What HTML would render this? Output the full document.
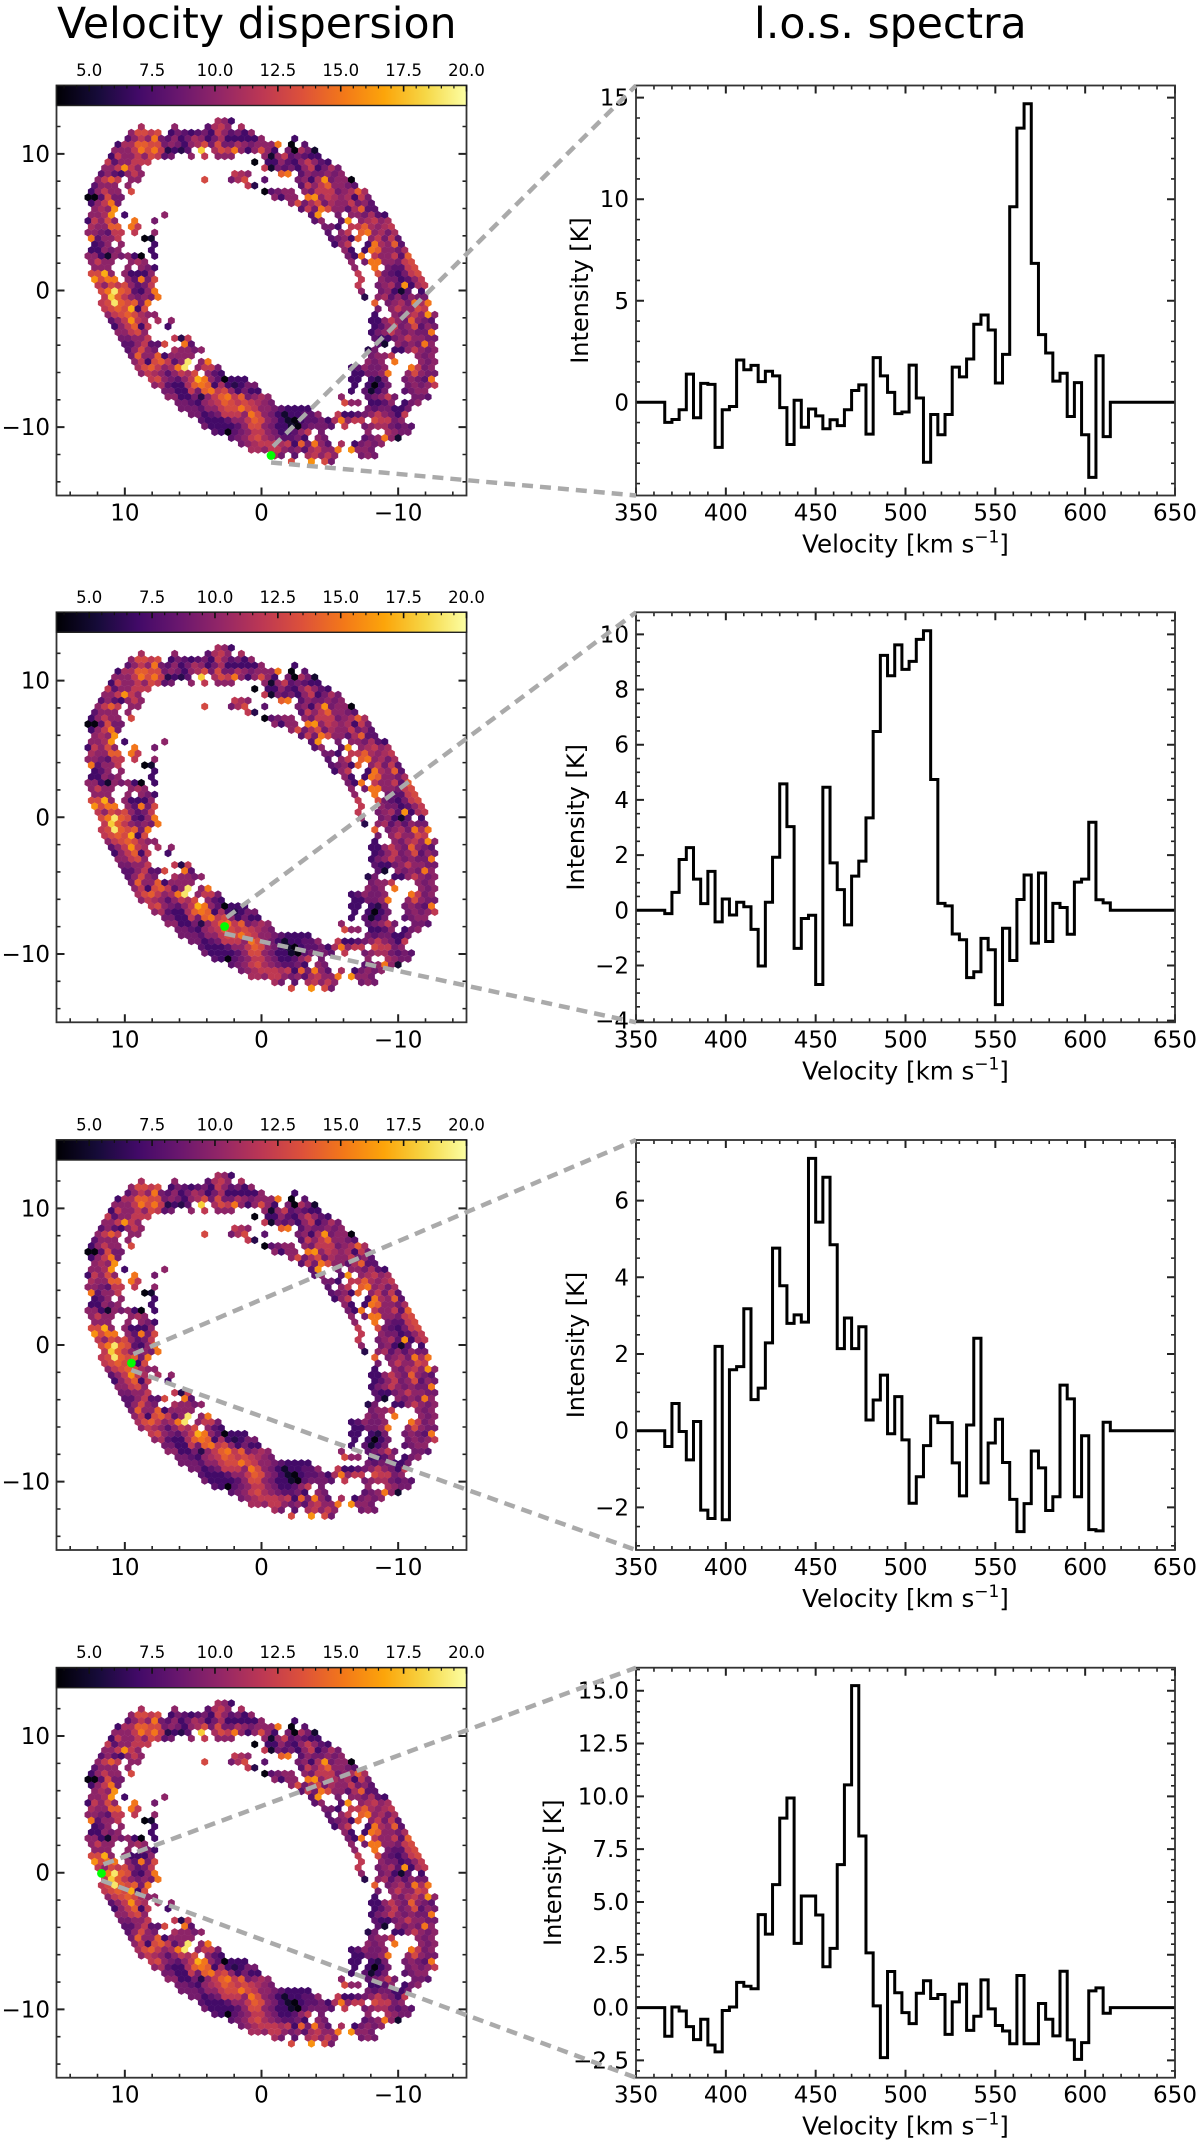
<!DOCTYPE html>
<html lang="en">
<head>
<meta charset="utf-8">
<title>Velocity dispersion and l.o.s. spectra</title>
<style>
html,body{margin:0;padding:0;background:#fff;}
svg{display:block;}
text{font-family:"DejaVu Sans","Liberation Sans",sans-serif;fill:#000;}
</style>
</head>
<body>
<svg id="figure" xmlns="http://www.w3.org/2000/svg" width="1200" height="2145" viewBox="0 0 1200 2145">
<rect x="0" y="0" width="1200" height="2145" fill="#fff"/>
<text x="57" y="38" font-size="42.6">Velocity dispersion</text>
<text x="754" y="38" font-size="42.6">l.o.s. spectra</text>
<defs>
<linearGradient id="infernoGradient" x1="0" x2="1" y1="0" y2="0"></linearGradient>
</defs>
</svg>
<script>
// ---------- chart data ----------
const spectrumVelocityChannels=[368,372,376,380,384,388,392,396,400,404,408,412,416,420,424,428,432,436,440,444,448,452,456,460,464,468,472,476,480,484,488,492,496,500,504,508,512,516,520,524,528,532,536,540,544,548,552,556,560,564,568,572,576,580,584,588,592,596,600,604,608,612];
const spectrumA=[-0.99,-0.85,-0.37,1.39,-0.76,0.93,0.88,-2.22,-0.37,-0.21,2.08,1.6,1.82,1.02,1.53,1.3,-0.26,-2.08,0.1,-1.23,-0.33,-0.67,-1.3,-0.86,-1.15,-0.37,0.58,0.86,-1.57,2.2,1.3,0.49,-0.56,-0.48,1.83,0.21,-2.95,-0.6,-1.6,-0.6,1.73,1.25,2.13,3.84,4.3,3.56,0.95,2.36,9.63,13.5,14.7,6.84,3.33,2.43,1.04,1.43,-0.7,0.97,-1.6,-3.7,2.29,-1.69];
const spectrumB=[-0.12,0.65,1.84,2.27,1.13,0.24,1.41,-0.42,0.41,-0.17,0.29,0.13,-0.69,-2.02,0.29,1.92,4.58,3.03,-1.38,-0.3,-0.18,-2.69,4.46,1.72,0.75,-0.53,1.24,1.78,3.35,6.48,9.24,8.5,9.62,8.73,9.02,9.82,10.13,4.74,0.25,0.16,-0.86,-1.07,-2.44,-2.23,-1.02,-1.43,-3.42,-0.65,-1.82,0.39,1.28,-1.19,1.35,-1.13,0.25,0.1,-0.87,1.02,1.13,3.19,0.38,0.27];
const spectrumC=[-0.41,0.71,-0.02,-0.76,0.24,-2.07,-2.29,2.2,-2.32,1.59,1.67,3.18,0.81,1.11,2.29,4.76,3.78,2.8,3.02,2.83,7.1,5.44,6.61,4.85,2.14,2.94,2.14,2.71,0.28,0.8,1.45,-0.08,0.89,-0.24,-1.89,-1.2,-0.39,0.38,0.21,0.21,-0.84,-1.7,0.15,2.41,-1.36,-0.32,0.3,-0.83,-1.79,-2.63,-1.9,-0.53,-0.97,-2.08,-1.72,1.19,0.83,-1.72,-0.13,-2.58,-2.61,0.22];
const spectrumD=[-1.36,0.03,-0.16,-0.9,-1.52,-0.55,-1.77,-2.1,-0.14,0.03,1.19,1.01,0.89,4.4,3.48,5.82,8.97,9.92,3.04,5.28,5.28,4.38,1.93,2.8,6.77,10.54,15.24,8.12,2.59,0.08,-2.37,1.71,0.7,-0.24,-0.76,0.68,1.27,0.43,0.62,-1.27,0.27,1.11,-1.08,-0.41,1.31,-0.06,-0.85,-1.11,-1.71,1.52,-1.71,-1.71,0.19,-0.55,-1.34,1.72,-1.53,-2.45,-1.66,0.79,0.93,-0.27];
const spectrumXTicks=[350,400,450,500,550,600,650];
const spectrumATicks=[0,5,10,15];
const spectrumBTicks=[-4,-2,0,2,4,6,8,10];
const spectrumCTicks=[-2,0,2,4,6];
const spectrumDTicks=[-2.5,0,2.5,5,7.5,10,12.5,15];
const spectrumYLimits=[[-4.59,15.6],[-4.06,10.8],[-3.11,7.58],[-3.32,16.09]];
const spectrumMinorSteps=[1,0.5,0.5,0.5];
const spectrumTickDecimals=[0,0,0,1];
const mapTicks=[10,0,-10];
const colorbarTicks=[5,7.5,10,12.5,15,17.5,20];
const colorRange=[3.7,20];
const markerX=[-0.7,2.7,9.52,11.71];
const markerY=[-12.07,-7.99,-1.32,-0.05];
// Velocity dispersion (km/s) of the hexagon map, one entry per hexagon row, top to bottom.
// Each segment is [first column index, value, value, ...].
const dispersionRows=[
[[20,11,10,7]],
[[8,11],[13,10],[18,8,11,12,10],[23,11]],
[[7,10,13,13,12,13],[13,7,9,8,7,8,9,7,12,10,8,9,7,10]],
[[6,8,10,12,10,15,9,8,10,7,9,11,10,7,9,11,7,7,7,7,7,10],[31,7]],
[[5,7,11,11,14,14,13,13,9,10,9,7,10,11,13,9,13,9,9,11,10,9,10,10,10,15],[31,4],[33,8]],
[[4,10,10,10,12,15,13,15,12,6,7,6,8],[17,18],[19,11,13,12,15,10,7,10,13,10,7],[30,9,4,11,9,5]],
[[4,7,12,10,10,12,10,13,12,8,9],[16,10],[18,12],[20,10,10,10],[27,10,5,10,12,8,9,8,7,7]],
[[3,12,8,10,10,12,12,12],[25,4],[27,7,7,10,8,7,10,12,10,8,7]],
[[3,10,10,12,16,12,10],[27,12,5,9,8,9,7,10,12,7,9,11,9]],
[[2,8,10,8,7,10,12,10],[22,12,11,10],[29,14,15],[32,8,10,9,9,10,9,10]],
[[2,10,12,14,12],[7,10,10],[18,13],[22,9,11,13],[27,8],[32,9,10,7,11,16,9,10,10,4]],
[[1,8,10,10,10],[6,10],[24,12,6],[32,8,12,10,12,14,10,10,9,8]],
[[1,7,10,12,10,10],[7,13],[27,4,8,9,10,10],[33,10,9,12,12,12,9,10,11,14,11]],
[[0,4,4,8,13,9,9],[28,10,7,10,10],[33,15,16,10,12,11,10,11,7,12,9]],
[[1,7,10,12,15,9],[31,10,13,9,11,13,9,11,10,10,12,9,10,8]],
[[1,10,11,10,16],[32,8,12,9,15,13,10,10,8,11,14,8,8]],
[[1,10,10,11,16],[6,7],[12,10],[34,8,16],[38,9],[40,10,10,9,11,8,7]],
[[0,7,12,10,13,10],[7,15],[10,9],[34,8,10],[38,8,16],[41,10,11,12,10,11]],
[[1,11,10,10,14,14],[7,15,12],[36,9,9,7],[40,12,12,14,11,10,11,12]],
[[0,10,10,9,8,12,12],[7,12],[10,10],[36,8],[38,10,12],[41,14,15,10,11,9,11]],
[[1,15,8,10,10,12],[9,4,5],[37,8,9,10,7,14],[43,10,12,9,12,8]],
[[1,7,8,10],[5,10],[10,7],[37,7,10,12],[42,7,15,11,10,14,8]],
[[1,7,7,10,9,10],[10,7],[39,10,7],[42,7,15,14,10,10,9,11]],
[[0,10,10,7,5,10,9,10,7,4],[10,7],[39,9,7,15],[43,12,10,10,12,8,14]],
[[1,10,12,10,10],[7,10,11,10],[40,10],[42,9,15,15,10,10,9,12,13]],
[[1,10,10,10],[6,10],[8,10,9,7],[40,10],[43,15],[45,9,8,8,12,13]],
[[1,13,13,17,10],[6,10,7,7,7,10],[41,12],[44,13,9,8,7,9,12,13]],
[[1,16,13,15,15],[6,10,8,15,9,13],[41,12],[44,10,9,9,7,8,10,12]],
[[2,12,10,13,12,13,10,8,9,12],[41,12],[44,9,10,11,8,16,7,11,12]],
[[2,13,15,19,14,13,8,7,10,15],[41,10],[44,9,10,7,5,8],[50,7]],
[[3,12,18,14,12,10,9,10,9,15],[42,6],[44,10,11,8,10,8,10,9,9]],
[[2,12,13,19,14,13,14,9,15],[43,14],[45,9,10,11,9,15,11,15]],
[[3,12,13,14,13,17,7,13],[44,9],[46,10,12,10,10,13,12]],
[[3,10,12,13,14,13,11,10,10],[43,7],[46,10,9,11,12,10,16,10]],
[[4,8,10,12,16,12,11],[11,11],[13,10],[43,7,7,10,12,10,9,14,10,9,8]],
[[4,7,10,12,14,7,12],[12,7],[43,7,8,10,12,9,10,13,8,10,9]],
[[5,10,10,12,13,10],[43,7,9,10,12,10,9,10,9,9,15]],
[[5,9,9,10,10,12],[13,12,6,12],[43,8,7,7,9,10,12,10,10,9,9]],
[[6,8,8,10,12,8,8,13],[15,15,8],[44,8,5],[47,10,9,10,9,15,10]],
[[6,8,10,13,10,9],[13,11,10,10,9,10],[42,6,9],[46,7,7,10,12,10,9,10]],
[[7,9,14,10,10,14,7,10,10,10,10],[43,9,10,10,12],[50,10,9,10]],
[[7,10,12,7,13,14,12,8,10,19],[17,10,15],[42,10,9,10],[46,15],[50,10,9,10]],
[[8,11,13,14,12,10,11,15,19],[17,10,12,12,9],[40,7,8,10,9,9,10],[49,15,12,9,10]],
[[8,10,12,11,10,8,10,12,11,13],[18,10,8,7],[40,7,7,9,9,10,15],[48,10,13,10,9,9]],
[[10,12,13,10,9,8,10,12,17,15,10,8,4,7,7,7],[40,7,7],[43,7,6,9],[48,9,10,9,8,15]],
[[10,10,11,8,7,7,11,14,15,14,7,11,7,6,7,9,9],[40,7],[42,7,4,7,9],[48,9,10,9,10,12]],
[[12,9,9,7,7,12,9,14,15,12,13,10,7,9,7,7],[40,7],[42,8,5,7,9],[48,8,9,10,10]],
[[12,10,10,7,7,9,6,10,12,14,15,12,14,9,10,11,10],[38,10],[42,8,9,10,12,9],[49,9,9,8]],
[[14,9,9,8,7,10,11,12,14,13,12,13,12,11,10,9],[39,13,10,10],[43,7,7,8,10],[48,7,9,10]],
[[14,9,9,9,8,10,10,12,13,13,15,13,12,10,10,9,8,7,7,7,7],[42,9,8,9,9,7,7,9]],
[[16,9,9,7,8,9,12,12,12,10,15,13,10,9,7,5,7,7,8,8,10],[38,12,7,7,8,9,10,12,10,9,7,12]],
[[17,8,7,7,7,8,10,10,12,14,13,10,9,7,5,4,7,8,8,9,7,11,15,10,12,12],[43,13,12,12,9,10]],
[[18,9,7,7,7,7,8,10,13,13,10,9,7,7,5,4,8,9,9,9,8],[39,12],[42,9,10,11,11,9,8,9,8]],
[[19,8,7,4,8,9,10,12,12,10,9,7,7,8,10,12],[35,9],[42,10],[45,11,10,9,9]],
[[22,8,9,10,12,13,11,10,9,8,8,9,7],[35,10,9],[42,8,9,10,15,10,5]],
[[23,9,10,11,12,12,12,11,12,7,14,9,15,10,8],[38,11],[40,7,9,10,9,10]],
[[25,11,11,10,12,12,10,9,10,8,11,12,10,10,15],[40,16,10,10,9]],
[[28,11,9],[31,8],[33,11,12,10,12,10],[41,9,10,9]],
[[31,13],[34,16],[36,13,9]]
];
const infernoStops=[[0,0,4],[22,11,57],[66,10,104],[106,23,110],[147,38,103],[188,55,84],[221,81,58],[243,120,25],[252,165,10],[246,215,70],[252,255,164]];

// ---------- layout ----------
const svg=document.getElementById('figure');
const NS='http://www.w3.org/2000/svg';
const panelTop=[85.5,612.3,1140,1667.7];
const axHeight=410;
const mapLeft=56.5,mapWidth=410;
const specLeft=636,specWidth=539;
const specYLabelX=[588,584,584,561];
const spectrumSeries=[spectrumA,spectrumB,spectrumC,spectrumD];
const spectrumYTicks=[spectrumATicks,spectrumBTicks,spectrumCTicks,spectrumDTicks];
const AXIS='#333';

function make(parent,tag,attrs,txt){
  const el=document.createElementNS(NS,tag);
  for(const k in attrs){el.setAttribute(k,attrs[k]);}
  if(txt!==undefined){el.textContent=txt;}
  parent.appendChild(el);
  return el;
}
function inferno(f){
  const t=Math.max(0,Math.min(1,f))*10;
  const i=Math.min(9,Math.floor(t));
  const u=t-i;
  const a=infernoStops[i],b=infernoStops[i+1];
  return 'rgb('+Math.round(a[0]+(b[0]-a[0])*u)+','+Math.round(a[1]+(b[1]-a[1])*u)+','+Math.round(a[2]+(b[2]-a[2])*u)+')';
}
function colorFor(v){return inferno((v-colorRange[0])/(colorRange[1]-colorRange[0]));}
function fmt(v,d){return v.toFixed(d).replace('-','\u2212');}
function mapX(d){return mapLeft+(15-d)/30*mapWidth;}
function mapYFactory(top){return function(d){return top+(15-d)/30*axHeight;};}
function specX(v){return specLeft+(v-350)/300*specWidth;}
function specYFactory(top,lim){return function(v){return top+(lim[1]-v)/(lim[1]-lim[0])*axHeight;};}
function hexColumnToData(col,row){return 12.94-0.488*col-(row%2?0.244:0);}
function hexRowToData(row){return 12.4-0.4295*row;}
function hexPoints(cx,cy,r){
  const p=[];
  for(let k=0;k<6;k++){
    const a=Math.PI/3*k+Math.PI/6;
    p.push((cx+r*Math.cos(a)).toFixed(2)+','+(cy+r*Math.sin(a)).toFixed(2));
  }
  return p.join(' ');
}

// gradient stops
const grad=document.getElementById('infernoGradient');
for(let i=0;i<=10;i++){
  make(grad,'stop',{offset:(i*10)+'%','stop-color':inferno(i/10)});
}

function tickPath(list){return list.join('');}

// ---------- panels ----------
panelTop.forEach(function(top,idx){
  const bottom=top+axHeight;
  const mapY=mapYFactory(top);
  // ---- left map ----
  const gMap=make(svg,'g',{});
  
  
  const gCells=make(gMap,'g',{});
  
  
  dispersionRows.forEach(function(segments,row){
    segments.forEach(function(seg){
      for(let n=1;n<seg.length;n++){
        const col=seg[0]+n-1;
        const cell=make(gCells,'polygon',{
          points:hexPoints(mapX(hexColumnToData(col,row)),mapY(hexRowToData(row)),3.98),
          fill:colorFor(seg[n])
        });
        
        
      }
    });
  });
  // map ticks
  const mapMajor=[],mapMinor=[];
  for(let d=-14;d<=14;d+=2){
    const isMajor=mapTicks.indexOf(d)>=0;
    const len=isMajor?8:4;
    const x=mapX(d),y=mapY(d);
    const s='M'+x+' '+bottom+'v'+(-len)+'M'+mapLeft+' '+y+'h'+len+'M'+(mapLeft+mapWidth)+' '+y+'h'+(-len);
    (isMajor?mapMajor:mapMinor).push(s);
  }
  const tMajor=make(gMap,'path',{d:tickPath(mapMajor),stroke:'#222','stroke-width':2,fill:'none'});
  
  
  const tMinor=make(gMap,'path',{d:tickPath(mapMinor),stroke:'#222','stroke-width':1.6,fill:'none'});
  
  
  mapTicks.forEach(function(d){
    const lx=make(gMap,'text',{x:mapX(d),y:bottom+25,'font-size':23,'text-anchor':'middle'},fmt(d,0));
    
    
    const ly=make(gMap,'text',{x:50,y:mapY(d)+8,'font-size':23,'text-anchor':'end'},fmt(d,0));
    
    
  });
  const frame=make(gMap,'rect',{x:mapLeft,y:top,width:mapWidth,height:axHeight,fill:'none',stroke:AXIS,'stroke-width':1.8});
  
  
  // colorbar
  const gBar=make(gMap,'g',{});
  
  
  const barRect=make(gBar,'rect',{x:mapLeft,y:top,width:mapWidth,height:20,fill:'url(#infernoGradient)',stroke:'#222','stroke-width':1.4});
  
  
  function barX(v){return mapLeft+(v-colorRange[0])/(colorRange[1]-colorRange[0])*mapWidth;}
  const barMaj=[],barMin=[];
  for(let v=4;v<=20.001;v+=0.5){
    if(colorbarTicks.indexOf(v)>=0){barMaj.push('M'+barX(v)+' '+top+'v6');}
    else{barMin.push('M'+barX(v)+' '+top+'v3');}
  }
  const bt1=make(gBar,'path',{d:tickPath(barMaj),stroke:'#111','stroke-width':1.6,fill:'none'});
  
  
  const bt2=make(gBar,'path',{d:tickPath(barMin),stroke:'#111','stroke-width':1.2,fill:'none'});
  
  
  colorbarTicks.forEach(function(v){
    const l=make(gBar,'text',{x:barX(v),y:top-9.5,'font-size':16.5,'text-anchor':'middle'},v.toFixed(1));
    
    
  });
  // selected pixel marker
  const mx=mapX(markerX[idx]),my=mapY(markerY[idx]);
  const marker=make(gMap,'circle',{cx:mx,cy:my,r:4.4,fill:'#00ff00'});
  
  

  // ---- right spectrum ----
  const lim=spectrumYLimits[idx];
  const specY=specYFactory(top,lim);
  const gSpec=make(svg,'g',{});
  
  
  const sMaj=[],sMin=[];
  for(let v=350;v<=650;v+=10){
    const isMajor=spectrumXTicks.indexOf(v)>=0;
    const len=isMajor?8:4;
    const x=specX(v);
    (isMajor?sMaj:sMin).push('M'+x+' '+bottom+'v'+(-len)+'M'+x+' '+top+'v'+len);
  }
  const step=spectrumMinorSteps[idx];
  for(let k=Math.ceil(lim[0]/step);k*step<=lim[1];k++){
    const v=k*step;
    const isMajor=spectrumYTicks[idx].indexOf(v)>=0;
    const len=isMajor?8:4;
    const y=specY(v);
    (isMajor?sMaj:sMin).push('M'+specLeft+' '+y+'h'+len+'M'+(specLeft+specWidth)+' '+y+'h'+(-len));
  }
  const st1=make(gSpec,'path',{d:tickPath(sMaj),stroke:'#222','stroke-width':2,fill:'none'});
  
  
  const st2=make(gSpec,'path',{d:tickPath(sMin),stroke:'#222','stroke-width':1.6,fill:'none'});
  
  
  spectrumXTicks.forEach(function(v){
    const l=make(gSpec,'text',{x:specX(v),y:bottom+25,'font-size':23,'text-anchor':'middle'},fmt(v,0));
    
    
  });
  spectrumYTicks[idx].forEach(function(v){
    const l=make(gSpec,'text',{x:629,y:specY(v)+8,'font-size':23,'text-anchor':'end'},fmt(v,spectrumTickDecimals[idx]));
    
    
  });
  // step line
  const series=spectrumSeries[idx];
  let d='M'+specX(350)+' '+specY(0);
  spectrumVelocityChannels.forEach(function(v,i){
    d+='L'+specX(v-2)+' '+specY(i>0?series[i-1]:0);
    d+='L'+specX(v-2)+' '+specY(series[i]);
    d+='L'+specX(v+2)+' '+specY(series[i]);
  });
  const lastV=spectrumVelocityChannels[spectrumVelocityChannels.length-1]+2;
  d+='L'+specX(lastV)+' '+specY(0)+'L'+specX(650)+' '+specY(0);
  const line=make(gSpec,'path',{d:d,fill:'none',stroke:'#000','stroke-width':3,'stroke-linejoin':'miter'});
  
  
  const sFrame=make(gSpec,'rect',{x:specLeft,y:top,width:specWidth,height:axHeight,fill:'none',stroke:AXIS,'stroke-width':1.8});
  
  
  const xTitle=make(gSpec,'text',{x:(specLeft+specWidth/2),y:bottom+57,'font-size':24.5,'text-anchor':'middle'});
  
  
  xTitle.appendChild(document.createTextNode('Velocity [km s'));
  const sup=make(xTitle,'tspan',{dy:-10,'font-size':17},'\u22121');
  
  
  const brk=make(xTitle,'tspan',{dy:10},']');
  
  
  const cy=top+axHeight/2;
  const yTitle=make(gSpec,'text',{x:specYLabelX[idx],y:cy,'font-size':24,'text-anchor':'middle',transform:'rotate(-90 '+specYLabelX[idx]+' '+cy+')'},'Intensity [K]');
  
  
  // connectors on top
  const gConn=make(svg,'g',{});
  
  
  const up=make(gConn,'line',{x1:mx+2,y1:my-9,x2:specLeft,y2:top,stroke:'#aaa','stroke-width':4.5,'stroke-dasharray':'11 7'});
  
  
  const low=make(gConn,'line',{x1:mx,y1:my+7,x2:specLeft,y2:bottom,stroke:'#aaa','stroke-width':4.5,'stroke-dasharray':'11 7'});
  
  
});
</script>
</body>
</html>
